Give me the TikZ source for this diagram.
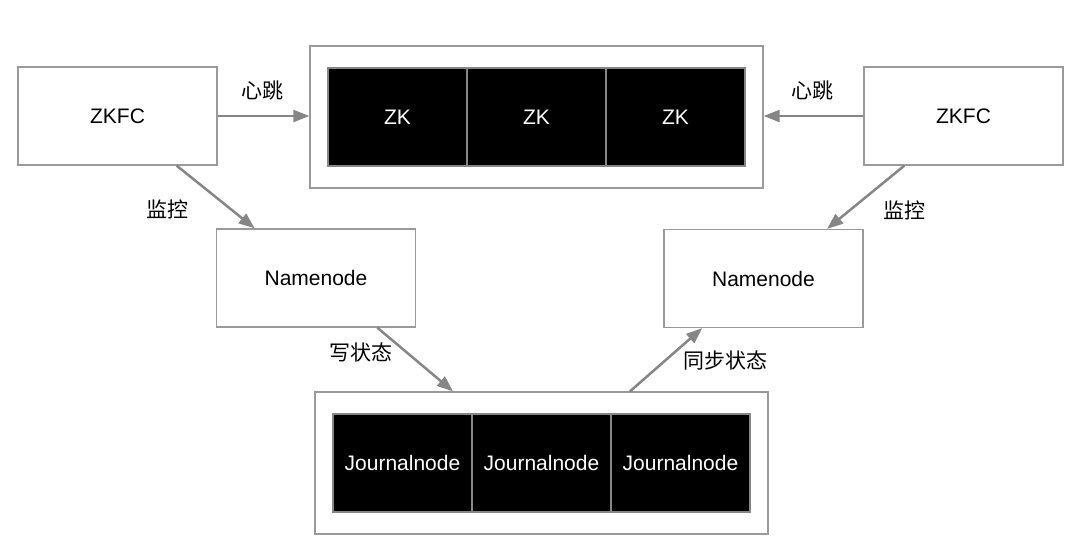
\documentclass[tikz,border=0pt]{standalone}
\usepackage{fontspec}
\setmainfont{Liberation Sans}
\newfontfamily\cjk{Noto Sans CJK SC}
\usepackage{tikz}
\usetikzlibrary{arrows.meta,positioning,fit,backgrounds}
\definecolor{edge}{HTML}{9A9A9A}
\definecolor{wire}{HTML}{868686}

\begin{document}
\begin{tikzpicture}[x=1pt,y=-1pt,
  node distance=0pt,
  box/.style={draw=edge,line width=1.3pt,fill=white,minimum width=199pt,
              minimum height=98pt,align=center,font=\fontsize{21}{25}\selectfont},
  cell/.style={draw=wire,line width=1.3pt,fill=black,text=white,outer sep=0pt,
               minimum width=139pt,minimum height=98pt,inner sep=0pt,
               font=\fontsize{21}{25}\selectfont},
  group/.style={draw=edge,line width=1.3pt,fill=white,inner xsep=18pt,inner ysep=22pt},
  link/.style={-{Triangle[length=16pt,width=12pt]},line width=2.5pt,draw=wire},
  tag/.style={font=\cjk\fontsize{21}{25}\selectfont,inner sep=0pt}
]
\useasboundingbox (0,0) rectangle (1080,558);

\node[box] (zkfcL) at (117.5,116) {ZKFC};
\node[box] (zkfcR) at (963.5,116) {ZKFC};

\node[cell] (zk1) at (397.5,117) {ZK};
\node[cell,right=of zk1] (zk2) {ZK};
\node[cell,right=of zk2] (zk3) {ZK};

\node[box] (nnL) at (316,278) {Namenode};
\node[box] (nnR) at (763.5,278.5) {Namenode};

\node[cell] (jn1) at (402.5,463) {Journalnode};
\node[cell,right=of jn1] (jn2) {Journalnode};
\node[cell,right=of jn2] (jn3) {Journalnode};

\begin{scope}[on background layer]
\node[group,fit=(zk1)(zk3)] (zkbox) {};
\node[group,fit=(jn1)(jn3)] (jnbox) {};
\end{scope}

\draw[link] (zkfcL.east) -- (zkfcL.east -| zkbox.west);
\draw[link] (zkfcR.west) -- (zkfcR.west -| zkbox.east);
\draw[link] (zkfcL.-40) -- (nnL.141);
\draw[link] (zkfcR.220) -- (nnR.38);
\draw[link] (nnL.-39) -- (jnbox.141);
\draw[link] (jnbox.39.5) -- (nnR.-141);

\node[tag] (beatL) at (262,91) {心跳};
\node[tag] (beatR) at (812.5,91) {心跳};
\node[tag] (watchL) at (167,209) {监控};
\node[tag] (watchR) at (904,210) {监控};
\node[tag] (write) at (360.5,352.5) {写状态};
\node[tag] (sync) at (725,360) {同步状态};
\end{tikzpicture}
\end{document}
